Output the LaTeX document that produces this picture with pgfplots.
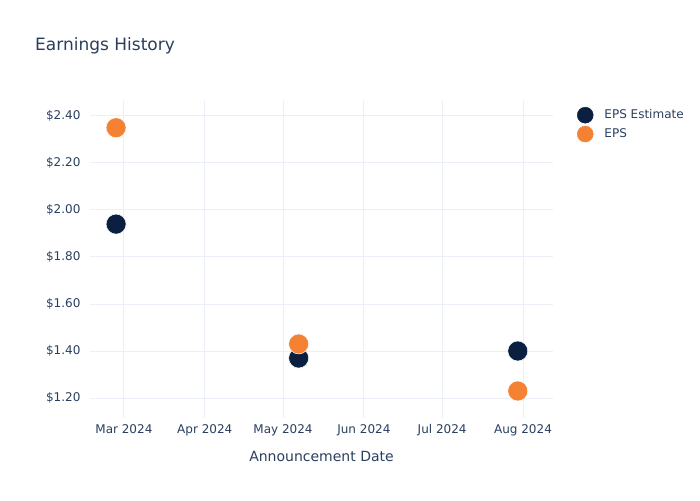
\documentclass[border=0pt]{standalone}
\usepackage{pgfplots}
\pgfplotsset{compat=1.18}
\usepackage{fontspec}
\setmainfont{DejaVu Sans}
\definecolor{txt}{HTML}{2A3F5F}
\definecolor{grd}{HTML}{EBF0F8}
\definecolor{navy}{HTML}{0B1F40}
\definecolor{orng}{HTML}{F58233}
\begin{document}
\begin{tikzpicture}
\fill[white] (0pt,0pt) rectangle (700pt,500pt);
\node[anchor=west, inner sep=0pt, text=txt, font=\fontsize{17}{20}\selectfont] at (35pt,454pt) {Earnings History};
\begin{axis}[
  at={(90pt,82pt)}, anchor=south west,
  scale only axis, width=463pt, height=318pt,
  xmin=-13, xmax=164.5, ymin=1.115, ymax=2.468,
  axis line style={draw=none},
  major tick length=0pt,
  grid=major, major grid style={grd, line width=1pt},
  xtick={0,31,61,92,122,153},
  xticklabels={Mar 2024,Apr 2024,May 2024,Jun 2024,Jul 2024,Aug 2024},
  ytick={1.2,1.4,1.6,1.8,2.0,2.2,2.4},
  yticklabel={\$\pgfmathprintnumber[fixed,fixed zerofill,precision=2]{\tick}},
  /pgf/number format/assume math mode=true,
  tick label style={text=txt, font=\fontsize{12}{14}\selectfont},
  yticklabel style={xshift=-6pt},
  xticklabel style={yshift=-3pt},
  xlabel={Announcement Date},
  xlabel style={text=txt, font=\fontsize{14}{16}\selectfont, yshift=-8pt},
  legend style={at={(1.045,0.985)}, anchor=north west, draw=none, fill=none,
    font=\fontsize{12}{14}\selectfont, text=txt, row sep=2.5pt,
    legend cell align=left},
  legend image code/.code={\fill[#1] (0.15cm,0) circle (8pt);},
  clip=false,
]
\addplot[only marks, mark=*, mark size=10pt, mark options={fill=navy, draw=white, line width=0.5pt}, color=navy]
  coordinates {(-3,1.94) (67,1.37) (151,1.40)};
\addlegendentry{\hspace{9pt}EPS Estimate}
\addplot[only marks, mark=*, mark size=10pt, mark options={fill=orng, draw=white, line width=0.5pt}, color=orng]
  coordinates {(-3,2.35) (67,1.43) (151,1.23)};
\addlegendentry{\hspace{9pt}EPS}
\end{axis}
\pgfresetboundingbox
\path (0pt,0pt) rectangle (700pt,500pt);
\end{tikzpicture}
\end{document}
